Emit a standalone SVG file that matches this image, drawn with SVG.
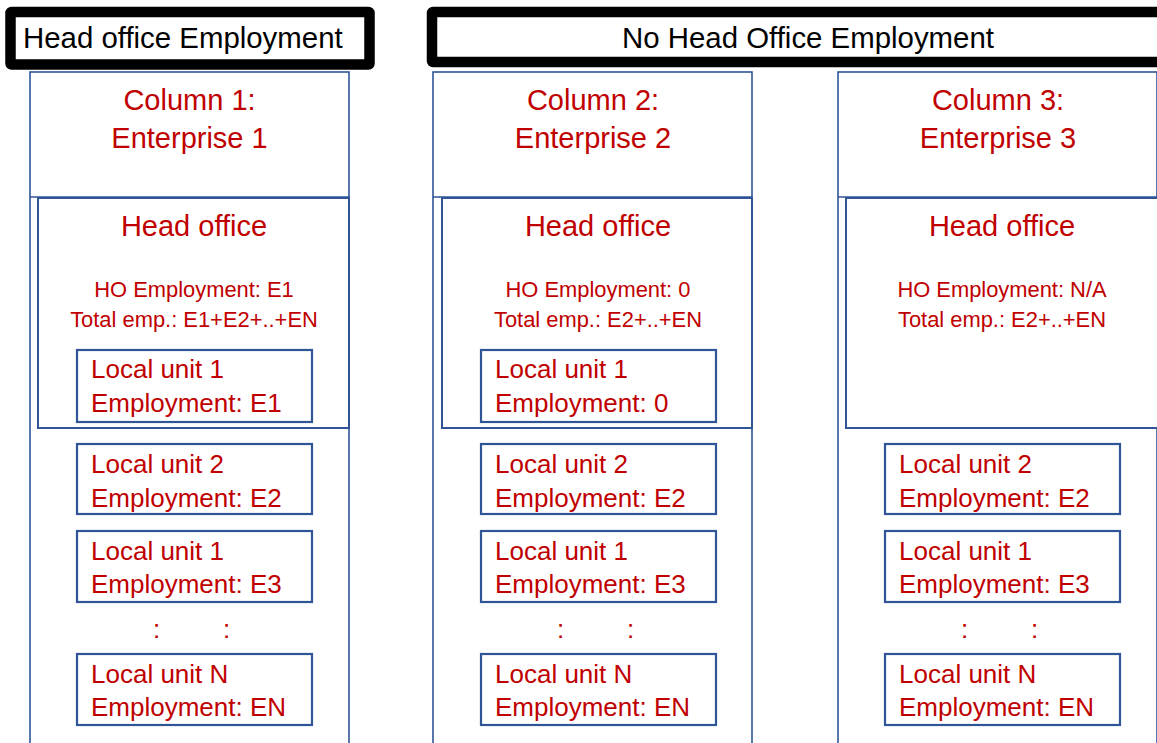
<svg xmlns="http://www.w3.org/2000/svg" width="1157" height="743" viewBox="0 0 1157 743">
<style>
  .ban{fill:#fff;stroke:#000;stroke-width:10.5;stroke-linejoin:round}
  .bt{font-family:"Liberation Sans",Arial,sans-serif;font-size:29.4px;fill:#000}
  .col{fill:#fff;stroke:#2F5597;stroke-width:1.6}
  .ho{fill:#fff;stroke:#2F5597;stroke-width:2}
  .lu{fill:#fff;stroke:#2F5597;stroke-width:2.2}
  .t{font-family:"Liberation Sans",Arial,sans-serif;fill:#C00000}
  .h{font-size:29px;text-anchor:middle}
  .s{font-size:21.9px;text-anchor:middle}
  .l{font-size:26px}
</style>
<rect width="1157" height="743" fill="#fff"/>

<g id="banner-ho">
  <rect class="ban" x="10.5" y="12" width="359" height="52.5" rx="1"/>
  <text class="bt" x="23" y="48">Head office Employment</text>
</g>
<g id="banner-noho">
  <rect class="ban" x="432" y="12" width="740" height="50" rx="1"/>
  <text class="bt" x="808" y="48" text-anchor="middle">No Head Office Employment</text>
</g>

<g id="column1">
  <rect class="col" x="30" y="72" width="319" height="690"/>
  <line x1="30" y1="197" x2="349" y2="197" stroke="#2F5597" stroke-width="1.6"/>
  <text class="t h" x="189.5" y="110">Column 1:</text>
  <text class="t h" x="189.5" y="148">Enterprise 1</text>
</g>
<g id="ho1">
  <rect class="ho" x="38" y="198" width="311" height="230"/>
  <text class="t h" x="194" y="236">Head office</text>
  <text class="t s" x="194" y="297">HO Employment: E1</text>
  <text class="t s" x="194" y="327">Total emp.: E1+E2+..+EN</text>
</g>
<g id="c1-lu1"><rect class="lu" x="77" y="350" width="235" height="72"/>
  <text class="t l" x="91" y="378">Local unit 1</text><text class="t l" x="91" y="412">Employment: E1</text></g>
<g id="c1-lu2"><rect class="lu" x="77" y="444" width="235" height="70"/>
  <text class="t l" x="91" y="473">Local unit 2</text><text class="t l" x="91" y="507">Employment: E2</text></g>
<g id="c1-lu3"><rect class="lu" x="77" y="531" width="235" height="71"/>
  <text class="t l" x="91" y="560">Local unit 1</text><text class="t l" x="91" y="593">Employment: E3</text></g>
<g id="c1-dots"><text class="t l" x="153" y="638">:</text><text class="t l" x="223" y="638">:</text></g>
<g id="c1-lun"><rect class="lu" x="77" y="654" width="235" height="71"/>
  <text class="t l" x="91" y="683">Local unit N</text><text class="t l" x="91" y="716">Employment: EN</text></g>

<g id="column2">
  <rect class="col" x="433" y="72" width="319" height="690"/>
  <line x1="433" y1="197" x2="752" y2="197" stroke="#2F5597" stroke-width="1.6"/>
  <text class="t h" x="593" y="110">Column 2:</text>
  <text class="t h" x="593" y="148">Enterprise 2</text>
</g>
<g id="ho2">
  <rect class="ho" x="442" y="198" width="310" height="230"/>
  <text class="t h" x="598" y="236">Head office</text>
  <text class="t s" x="598" y="297">HO Employment: 0</text>
  <text class="t s" x="598" y="327">Total emp.: E2+..+EN</text>
</g>
<g id="c2-lu1"><rect class="lu" x="481" y="350" width="235" height="72"/>
  <text class="t l" x="495" y="378">Local unit 1</text><text class="t l" x="495" y="412">Employment: 0</text></g>
<g id="c2-lu2"><rect class="lu" x="481" y="444" width="235" height="70"/>
  <text class="t l" x="495" y="473">Local unit 2</text><text class="t l" x="495" y="507">Employment: E2</text></g>
<g id="c2-lu3"><rect class="lu" x="481" y="531" width="235" height="71"/>
  <text class="t l" x="495" y="560">Local unit 1</text><text class="t l" x="495" y="593">Employment: E3</text></g>
<g id="c2-dots"><text class="t l" x="557" y="638">:</text><text class="t l" x="627" y="638">:</text></g>
<g id="c2-lun"><rect class="lu" x="481" y="654" width="235" height="71"/>
  <text class="t l" x="495" y="683">Local unit N</text><text class="t l" x="495" y="716">Employment: EN</text></g>

<g id="column3">
  <rect class="col" x="838" y="72" width="319" height="690"/>
  <line x1="838" y1="197" x2="1157" y2="197" stroke="#2F5597" stroke-width="1.6"/>
  <text class="t h" x="998" y="110">Column 3:</text>
  <text class="t h" x="998" y="148">Enterprise 3</text>
</g>
<g id="ho3">
  <rect class="ho" x="846" y="198" width="320" height="230"/>
  <text class="t h" x="1002" y="236">Head office</text>
  <text class="t s" x="1002" y="297">HO Employment: N/A</text>
  <text class="t s" x="1002" y="327">Total emp.: E2+..+EN</text>
</g>
<g id="c3-lu2"><rect class="lu" x="885" y="444" width="235" height="70"/>
  <text class="t l" x="899" y="473">Local unit 2</text><text class="t l" x="899" y="507">Employment: E2</text></g>
<g id="c3-lu3"><rect class="lu" x="885" y="531" width="235" height="71"/>
  <text class="t l" x="899" y="560">Local unit 1</text><text class="t l" x="899" y="593">Employment: E3</text></g>
<g id="c3-dots"><text class="t l" x="961" y="638">:</text><text class="t l" x="1031" y="638">:</text></g>
<g id="c3-lun"><rect class="lu" x="885" y="654" width="235" height="71"/>
  <text class="t l" x="899" y="683">Local unit N</text><text class="t l" x="899" y="716">Employment: EN</text></g>

<g id="connectors"></g>
</svg>
